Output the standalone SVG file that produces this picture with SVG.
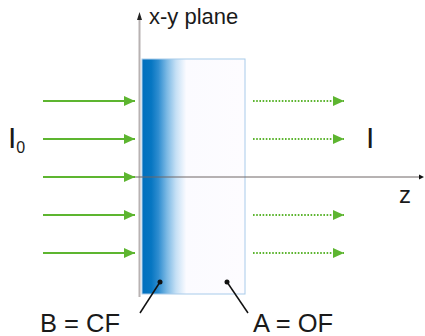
<svg xmlns="http://www.w3.org/2000/svg" width="425" height="336" viewBox="0 0 425 336">
<style>
.lbl{font-family:"Liberation Sans",Arial,sans-serif;fill:#1a1a1a}
.g{stroke:#5db530;stroke-width:2;fill:none}
.gd{stroke:#5db530;stroke-width:2;fill:none;stroke-dasharray:1.6 1.6}
.ld{stroke:#111;stroke-width:1.5;fill:none}
</style>
<defs>
<linearGradient id="grad" x1="0" y1="0" x2="1" y2="0">
<stop offset="0" stop-color="#006fbd"/>
<stop offset="0.09" stop-color="#0676c2"/>
<stop offset="0.16" stop-color="#2f8dd0"/>
<stop offset="0.24" stop-color="#7ab8e4"/>
<stop offset="0.33" stop-color="#c5e0f5"/>
<stop offset="0.43" stop-color="#fbfbff"/>
<stop offset="1" stop-color="#fdfcff"/>
</linearGradient>
<marker id="ga" markerWidth="12" markerHeight="10" refX="11" refY="5" orient="auto" markerUnits="userSpaceOnUse">
<path d="M0,0 L11,5 L0,10 Z" fill="#5db530"/>
</marker>
</defs>
<g id="slab">
<rect x="142" y="59" width="103" height="235" fill="url(#grad)" stroke="#a8cbea" stroke-width="1"/>
</g>
<g id="axes">
<line x1="139.5" y1="16" x2="139.5" y2="297" stroke="#b8b2b2" stroke-width="2"/>
<path d="M137,20 L139.5,12 L142,20 Z" fill="#222"/>
<line x1="135" y1="177" x2="420" y2="177" stroke="#6e6666" stroke-width="1"/>
<path d="M419,174.5 L424,177 L419,179.5 Z" fill="#111"/>
</g>
<g id="connectors">
<line class="g" x1="43" y1="101" x2="135" y2="101" marker-end="url(#ga)"/>
<line class="g" x1="43" y1="139" x2="135" y2="139" marker-end="url(#ga)"/>
<line class="g" x1="43" y1="177" x2="135" y2="177" marker-end="url(#ga)"/>
<line class="g" x1="43" y1="215" x2="135" y2="215" marker-end="url(#ga)"/>
<line class="g" x1="43" y1="253" x2="135" y2="253" marker-end="url(#ga)"/>
<line class="gd" x1="253" y1="101" x2="344" y2="101" marker-end="url(#ga)"/>
<line class="gd" x1="253" y1="139" x2="344" y2="139" marker-end="url(#ga)"/>
<line class="gd" x1="253" y1="215" x2="344" y2="215" marker-end="url(#ga)"/>
<line class="gd" x1="253" y1="253" x2="344" y2="253" marker-end="url(#ga)"/>
<line class="ld" x1="160" y1="282" x2="140" y2="313"/>
<circle cx="160" cy="282" r="2.5" fill="#111"/>
<line class="ld" x1="227" y1="282" x2="248" y2="313"/>
<circle cx="227" cy="282" r="2.5" fill="#111"/>
</g>
<g id="labels">
<text class="lbl" x="149" y="24" font-size="22" fill="#333">x-y plane</text>
<text class="lbl" x="8" y="148" font-size="30">I<tspan font-size="16" dy="5">0</tspan></text>
<text class="lbl" x="366" y="148" font-size="30">I</text>
<text class="lbl" x="399" y="203" font-size="24">z</text>
<text class="lbl" x="40" y="332" font-size="25.5">B = CF</text>
<text class="lbl" x="253" y="332" font-size="25.5">A = OF</text>
</g>
</svg>
